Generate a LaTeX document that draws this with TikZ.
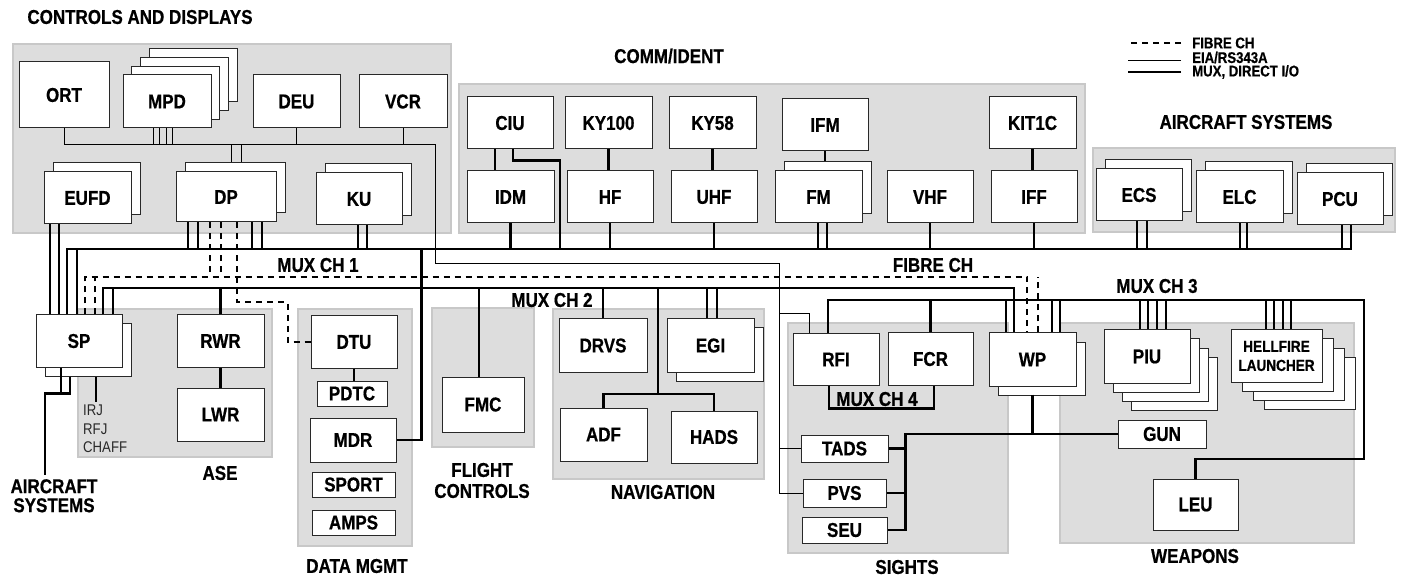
\documentclass[tikz,border=0pt]{standalone}
\usepackage{fontspec}
\setmainfont{Liberation Sans}[FakeStretch=0.85,BoldFeatures={FakeBold=0.6}]
\usetikzlibrary{shadows}
\definecolor{grpfill}{RGB}{221,221,221}
\definecolor{grpline}{RGB}{200,200,200}
\definecolor{boxline}{RGB}{40,40,40}
\definecolor{smalltxt}{RGB}{40,40,40}
\newcommand\boxfont{\fontsize{20}{21}\selectfont\bfseries}

\begin{document}
\begin{tikzpicture}[x=1pt,y=-1pt,
  grp/.style={fill=grpfill,draw=grpline,line width=2.5pt},
  box/.style={draw=boxline,fill=white,line width=1pt,minimum width=86,minimum height=52,inner sep=0pt,font=\boxfont},
  head/.style={inner sep=0pt,font=\boxfont,align=center},
  legend/.style={inner sep=0pt,font=\fontsize{15.5}{15}\selectfont\bfseries},
  mux/.style={line width=2.4pt},
  eia/.style={line width=1pt},
  fibre/.style={line width=2pt,dash pattern=on 6pt off 5pt},
  up1/.style={copy shadow={shadow xshift=9pt,shadow yshift=9pt,fill=white,draw=boxline,line width=1pt}},
  dn1/.style={copy shadow={shadow xshift=9pt,shadow yshift=-9pt,fill=white,draw=boxline,line width=1pt}},
  up3/.style={copy shadow={shadow xshift=26pt,shadow yshift=26pt,fill=white,draw=boxline,line width=1pt},
    copy shadow={shadow xshift=17.4pt,shadow yshift=17.4pt,fill=white,draw=boxline,line width=1pt},
    copy shadow={shadow xshift=8.7pt,shadow yshift=8.7pt,fill=white,draw=boxline,line width=1pt}},
  dn3/.style={copy shadow={shadow xshift=3*#1,shadow yshift=-27pt,fill=white,draw=boxline,line width=1pt},
    copy shadow={shadow xshift=2*#1,shadow yshift=-18pt,fill=white,draw=boxline,line width=1pt},
    copy shadow={shadow xshift=#1,shadow yshift=-9pt,fill=white,draw=boxline,line width=1pt}}]

\useasboundingbox (0,0) rectangle (1403,577);

% groups
\draw[grp] (13,44) rectangle (451,233);
\draw[grp] (459,84) rectangle (1085,233);
\draw[grp] (1093,148) rectangle (1395,232);
\draw[grp] (78,309) rectangle (272,457);
\draw[grp] (298,309) rectangle (412,546);
\draw[grp] (432,308) rectangle (534,447);
\draw[grp] (553,309) rectangle (764,479);
\draw[grp] (788,323) rectangle (1008,553);
\draw[grp] (1060,323) rectangle (1354,543);

% controls and displays
\node[box,minimum width=90,minimum height=66] (ORT) at (64,95) {ORT};
\node[box,up3,minimum width=88,minimum height=53] (MPD) at (167,101.5) {MPD};
\node[box,minimum width=87,minimum height=53] (DEU) at (296.5,101.5) {DEU};
\node[box,minimum width=88,minimum height=53] (VCR) at (403,101.5) {VCR};
\node[box,up1,minimum width=87] (EUFD) at (87.5,198) {EUFD};
\node[box,up1,minimum width=100,minimum height=50] (DP) at (226,197) {DP};
\node[box,up1] (KU) at (359,199) {KU};

% comm/ident
\node[box] (CIU) at (510,123) {CIU};
\node[box,minimum width=87] (KY100) at (608.5,123) {KY100};
\node[box,minimum width=87] (KY58) at (712.5,123) {KY58};
\node[box] (IFM) at (825,125) {IFM};
\node[box,minimum width=87] (KIT1C) at (1032.5,123) {KIT1C};
\node[box,minimum width=87] (IDM) at (510.5,197) {IDM};
\node[box] (HF) at (610,197) {HF};
\node[box] (UHF) at (714,197) {UHF};
\node[box,up1,minimum width=87] (FM) at (818.5,197) {FM};
\node[box] (VHF) at (930,197) {VHF};
\node[box] (IFF) at (1034,197) {IFF};

% aircraft systems
\node[box,up1] (ECS) at (1139,195) {ECS};
\node[box,up1,minimum width=87] (ELC) at (1239.5,197) {ELC};
\node[box,up1] (PCU) at (1340,199) {PCU};

% ase, data mgmt, flight controls, navigation
\node[box,dn1] (SP) at (79,341) {SP};
\node[box,minimum width=87] (RWR) at (220.5,341) {RWR};
\node[box,minimum width=87,minimum height=53] (LWR) at (220.5,414.5) {LWR};
\node[box] (DTU) at (354,342) {DTU};
\node[box,minimum width=70,minimum height=25] (PDTC) at (352,393.5) {PDTC};
\node[box,minimum height=44] (MDR) at (353,440) {MDR};
\node[box,minimum width=83,minimum height=25] (SPORT) at (353.5,484.5) {SPORT};
\node[box,minimum width=83,minimum height=25] (AMPS) at (353.5,522.5) {AMPS};
\node[box,minimum width=82,minimum height=55] (FMC) at (483,404.5) {FMC};
\node[box,minimum width=88,minimum height=53] (DRVS) at (603,345.5) {DRVS};
\node[box,dn1,minimum width=87,minimum height=53] (EGI) at (710.5,345.5) {EGI};
\node[box,minimum width=87,minimum height=53] (ADF) at (603.5,434.5) {ADF};
\node[box] (HADS) at (714,437) {HADS};

% sights and weapons
\node[box,minimum height=51] (RFI) at (836,359.5) {RFI};
\node[box,minimum width=85] (FCR) at (930.5,359) {FCR};
\node[box,dn1,minimum width=87,minimum height=53] (WP) at (1032.5,359.5) {WP};
\node[box,minimum width=87,minimum height=27] (TADS) at (844.5,448.5) {TADS};
\node[box,minimum width=83,minimum height=28] (PVS) at (844.5,493) {PVS};
\node[box,minimum width=85,minimum height=26] (SEU) at (844.5,530) {SEU};
\node[box,dn3=9pt,minimum height=53] (PIU) at (1147,356.5) {PIU};
\node[box,dn3=11pt,minimum width=91,align=center,font=\fontsize{16}{19}\selectfont\bfseries] (HELL) at (1276.5,356) {HELLFIRE\\LAUNCHER};
\node[box,minimum width=88,minimum height=28] (GUN) at (1162,434) {GUN};
\node[box,minimum width=85,minimum height=51] (LEU) at (1195.5,504.5) {LEU};

% titles and channel labels
\node[head] (cdh) at (140,17) {CONTROLS AND DISPLAYS};
\node[head] (cih) at (669,56) {COMM/IDENT};
\node[head] (ash) at (1246,122) {AIRCRAFT SYSTEMS};
\node[head] (mux1) at (318,265) {MUX CH 1};
\node[head] (mux2) at (552,300) {MUX CH 2};
\node[head] (fibh) at (933,265) {FIBRE CH};
\node[head] (mux3) at (1157,286) {MUX CH 3};
\node[head] (mux4) at (877,399) {MUX CH 4};
\node[head] (aseh) at (220,473) {ASE};
\node[head] (dmh) at (357,566) {DATA MGMT};
\node[head] (flh) at (482,480.5) {FLIGHT\\CONTROLS};
\node[head] (navh) at (663,492) {NAVIGATION};
\node[head] (sgh) at (907,567) {SIGHTS};
\node[head] (wph) at (1195,556) {WEAPONS};
\node[head,font=\fontsize{20}{19}\selectfont\bfseries,anchor=north] (acsys) at (54,479) {AIRCRAFT\\SYSTEMS};
\node[inner sep=0pt,align=left,anchor=north west,text=smalltxt,font=\fontsize{15.5}{18.5}\selectfont] (irj) at (83,405) {IRJ\\RFJ\\CHAFF};

% legend
\node[legend,anchor=west] (lg1) at (1192,43) {FIBRE CH};
\node[legend,anchor=west] (lg2) at (1192,57.5) {EIA/RS343A};
\node[legend,anchor=west] (lg3) at (1192,72) {MUX, DIRECT I/O};
\draw[fibre] ([xshift=-11]lg1.west) -- ++(-53,0);
\draw[eia] ([xshift=-11,yshift=-3]lg2.west) -- ++(-53,0);
\draw[mux] ([xshift=-11]lg3.west) -- ++(-53,0);

\coordinate (eia) at (435,145);
\coordinate (eiav) at (779,264);
\coordinate (b1e) at (1351,249);
\coordinate (fe) at (1027,277);
\coordinate (b2e) at (1014,288);
\coordinate (b3e) at (1364,300);
\coordinate (leuc) at (1364,459);
\coordinate (nav) at (658,394);

% EIA/RS343A
\draw[eia] (ORT.south) |- (eia) |- (eiav) |- (PVS.west);
\foreach \d in {-14,-7.5,-1,5.5}
  \draw[eia] ([xshift=\d]MPD.south) -- ([xshift=\d]MPD.south |- eia);
\draw[eia] (DEU.south) -- (DEU.south |- eia);
\draw[eia] (VCR.south) -- (VCR.south |- eia);
\foreach \d in {5,15}
  \draw[eia] ([xshift=\d]DP.north |- eia) -- ([xshift=\d,yshift=9]DP.north);
\draw[eia] (TADS.west) -- (TADS.west -| eiav);
\draw[eia] ([xshift=-27]RFI.north) -- ++(0,-20) -| (eiav);

% MUX CH 1
\foreach \d in {-37.5,-28.5}
  \draw[mux] ([xshift=\d]EUFD.south) -- ([xshift=\d]EUFD.south |- SP.north);
\draw[mux] ([xshift=-12]SP.north) |- (b1e) -- (b1e |- PCU.south);
\draw[mux] ([xshift=-2]SP.north) -- ([xshift=-2]SP.north |- b1e);
\foreach \d in {-38,-28,26,36}
  \draw[mux] ([xshift=\d]DP.south) -- ([xshift=\d]DP.south |- b1e);
\foreach \d in {-1,8}
  \draw[mux] ([xshift=\d]KU.south) -- ([xshift=\d]KU.south |- b1e);
\draw[mux] ([xshift=-15]CIU.south) -- ([xshift=-15]CIU.south |- IDM.north);
\draw[mux] ([xshift=3]CIU.south) -- ++(0,11) -| ([xshift=50]CIU.south |- b1e);
\foreach \n in {IDM,HF,UHF,VHF,IFF}
  \draw[mux] (\n.south) -- (\n.south |- b1e);
\draw[mux] (KY100.south) -- (KY100.south |- HF.north);
\draw[mux] (KY58.south) -- (KY58.south |- UHF.north);
\draw[mux] (KIT1C.south) -- (KIT1C.south |- IFF.north);
\draw[mux] (IFM.south) -- ([yshift=9]IFM.south |- FM.north);
\foreach \d in {-0.5,8.5}
  \draw[mux] ([xshift=\d]FM.south) -- ([xshift=\d]FM.south |- b1e);
\foreach \d in {-2,8}
  \draw[mux] ([xshift=\d]ECS.south) -- ([xshift=\d]ECS.south |- b1e);
\foreach \d in {0.5,7.5}
  \draw[mux] ([xshift=\d]ELC.south) -- ([xshift=\d]ELC.south |- b1e);
\draw[mux] ([xshift=2]PCU.south) -- ([xshift=2]PCU.south |- b1e);
\draw[mux] (MDR.east) -| ([xshift=25]MDR.east |- b1e);

% MUX CH 2
\draw[mux] ([xshift=24]SP.north) |- (b2e) -- (b2e |- WP.north);
\draw[mux] ([xshift=34]SP.north) -- ([xshift=34]SP.north |- b2e);
\draw[mux] (RWR.north) -- (RWR.north |- b2e);
\draw[mux] (RWR.south) -- (LWR.north);
\draw[mux] ([xshift=-4]FMC.north) -- ([xshift=-4]FMC.north |- b2e);
\draw[mux] (DRVS.north) -- (DRVS.north |- b2e);
\foreach \d in {-3.5,6.5}
  \draw[mux] ([xshift=\d]EGI.north) -- ([xshift=\d]EGI.north |- b2e);
\draw[mux] (ADF.north) |- (nav) -| (HADS.north);
\draw[mux] (nav) -- (nav |- b2e);
\draw[mux] (DTU.south) -- (DTU.south |- PDTC.north);

% MUX CH 3 and 4
\draw[mux] ([xshift=-8]RFI.north) |- (b3e) -- (leuc) -| (LEU.north);
\draw[mux] (FCR.north) -- (FCR.north |- b3e);
\foreach \d in {-26.5,19.5,27.5}
  \draw[mux] ([xshift=\d]WP.north) -- ([xshift=\d]WP.north |- b3e);
\foreach \d in {-7,1,10,19}
  \draw[mux] ([xshift=\d]PIU.north) -- ([xshift=\d]PIU.north |- b3e);
\foreach \d in {-10.5,-2.5,6.5,14.5}
  \draw[mux] ([xshift=\d]HELL.north) -- ([xshift=\d]HELL.north |- b3e);
\draw[mux] ([xshift=-7]RFI.south) -- ++(0,23) -| ([xshift=3.5]FCR.south);
\draw[mux] ([yshift=-8]WP.south) -- (WP.south |- GUN.west);
\draw[mux] (GUN.west) -| ([xshift=18]SEU.east) -- (SEU.east);
\draw[mux] (TADS.east) -- ++(17,0);
\draw[mux] (PVS.east) -- ++(19,0);

% SP outputs
\draw[mux] ([xshift=-18]SP.south) -- ++(0,26);
\draw[mux] ([xshift=-9,yshift=-9]SP.south) -- ++(0,17) -| ([xshift=-9,yshift=4]acsys.north);
\draw[mux] ([xshift=17,yshift=-9]SP.south) -- ([xshift=17,yshift=3]SP.south |- irj.north);

% fibre channel
\draw[fibre] ([xshift=6]SP.north) |- (fe) -- (fe |- WP.north);
\draw[fibre] ([xshift=16]SP.north) -- ([xshift=16]SP.north |- fe);
\draw[fibre] ([xshift=5.5]WP.north) -- ([xshift=5.5]WP.north |- fe);
\foreach \d in {-16,-5}
  \draw[fibre] ([xshift=\d]DP.south) -- ([xshift=\d]DP.south |- fe);
\draw[fibre] ([xshift=11]DP.south) -- ++(0,80) -| ([xshift=-23]DTU.west) -- (DTU.west);

\end{tikzpicture}
\end{document}
